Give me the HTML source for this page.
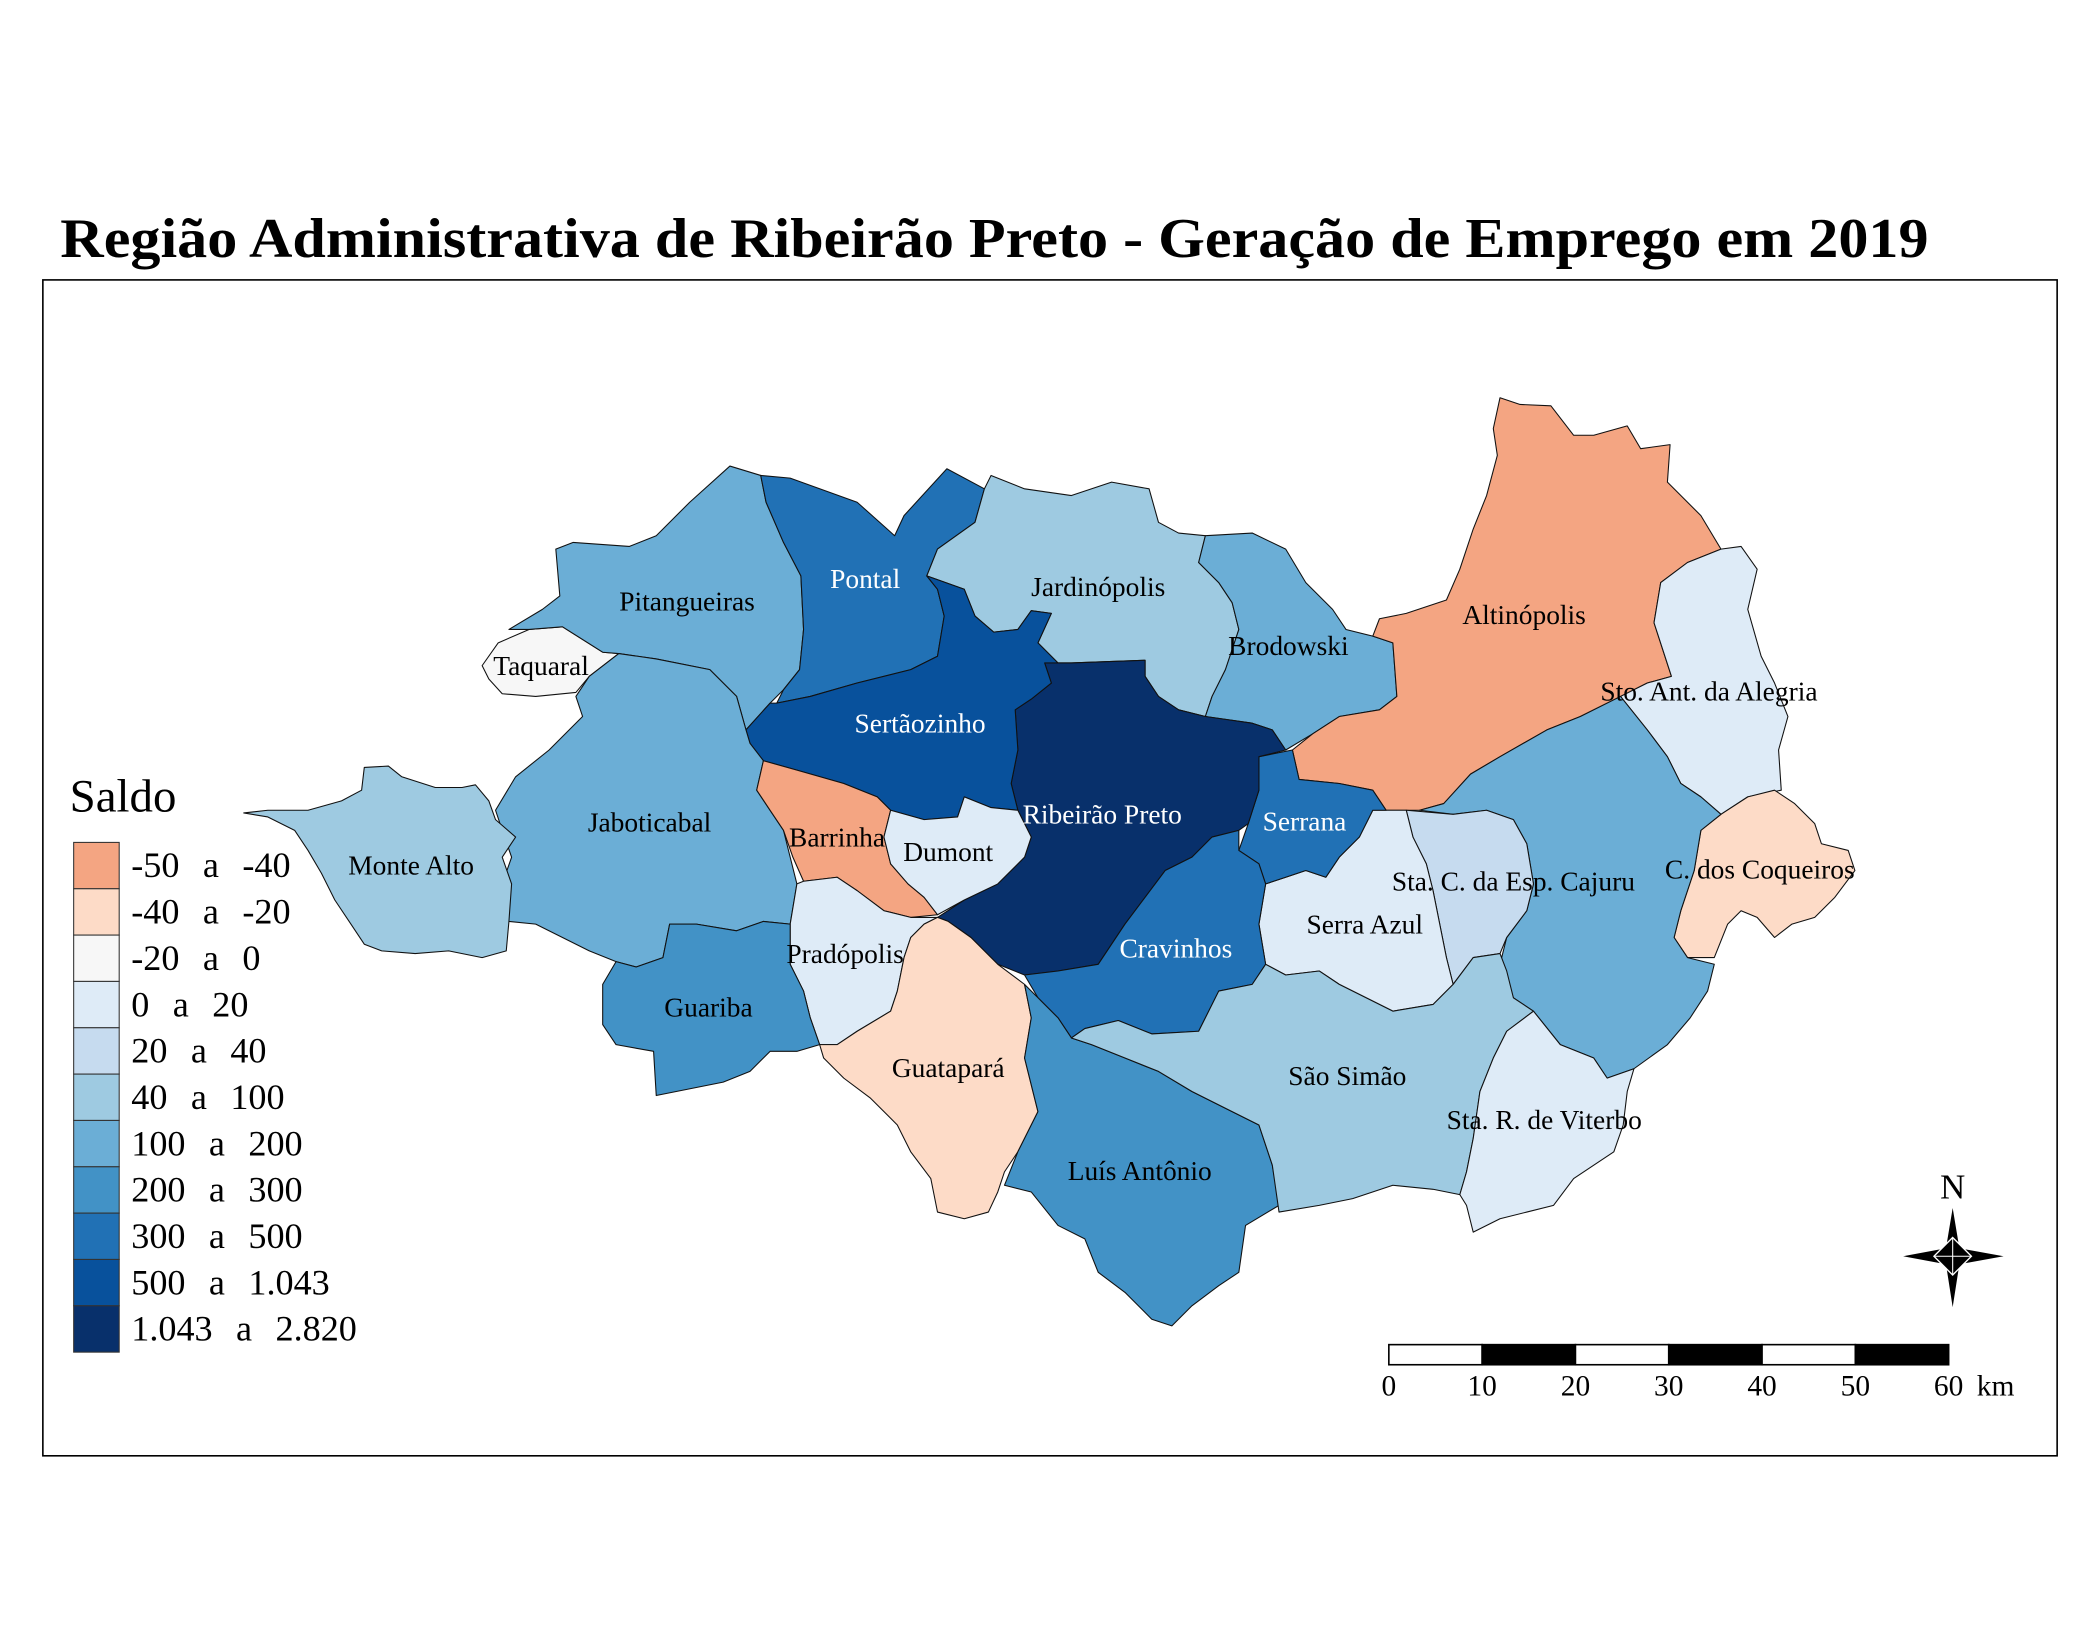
<!DOCTYPE html>
<html><head><meta charset="utf-8"><style>
html,body{margin:0;padding:0;background:#fff}
svg{display:block}
text{font-family:"Liberation Serif",serif}
</style></head><body>
<svg id="map" width="2100" height="1650" viewBox="0 0 1568 1232" preserveAspectRatio="none">
<rect width="1568" height="1232" fill="#fff"/>
<text x="45" y="192" font-size="42" font-weight="bold" textLength="1395" lengthAdjust="spacingAndGlyphs">Região Administrativa de Ribeirão Preto - Geração de Emprego em 2019</text>
<rect x="32" y="209" width="1504" height="878" fill="none" stroke="#000" stroke-width="1.2"/>
<g id="regions"></g>
<g id="labels"></g>
<g id="legend"></g>
<g>
<text x="1458" y="895" font-size="26" text-anchor="middle">N</text>
<polygon points="1458,902 1463,932 1496,938 1463,944 1458,976 1453,944 1421,938 1453,932" fill="#000"/>
<polygon points="1458,924 1472,938 1458,952 1444,938" fill="#000" stroke="#fff" stroke-width="1"/>
<line x1="1458" y1="924" x2="1458" y2="952" stroke="#fff" stroke-width="0.8"/>
<line x1="1444" y1="938" x2="1472" y2="938" stroke="#fff" stroke-width="0.8"/>
</g>
<g id="scalebar"></g>
</svg>
<script>
const municipalities = ["Taquaral","Pitangueiras","Pontal","Jardinópolis","Brodowski","Altinópolis","Sto. Ant. da Alegria","C. dos Coqueiros","Cajuru","Sta. C. da Esp.","Serra Azul","Serrana","Ribeirão Preto","Sertãozinho","Jaboticabal","Monte Alto","Barrinha","Dumont","Pradópolis","Guariba","Guatapará","Cravinhos","Luís Antônio","São Simão","Sta. R. de Viterbo"];
const saldo = [-10,150,400,70,150,-45,10,-30,150,30,10,400,2820,800,150,70,-45,10,10,250,-30,400,250,70,10];
const classBreaks = [-50,-40,-20,0,20,40,100,200,300,500,1043,2820];
const classLabels = ["-50  a  -40","-40  a  -20","-20  a  0","0  a  20","20  a  40","40  a  100","100  a  200","200  a  300","300  a  500","500  a  1.043","1.043  a  2.820"];
const classColors = ["#f4a582","#fddbc7","#f7f7f7","#deebf7","#c6dbef","#9ecae1","#6baed6","#4292c6","#2171b5","#08519c","#08306b"];
const scaleTicks = [0,10,20,30,40,50,60];

const shapes = {
"Taquaral":"360,497 372,480 395,470 420,468 450,487 462,488 440,505 430,517 400,520 375,518 365,507",
"Pitangueiras":"380,470 405,455 418,445 415,410 428,405 470,408 490,400 515,375 545,348 568,355 572,375 585,405 598,430 600,470 597,500 585,515 575,525 557,545 550,520 530,500 490,492 462,488 450,487 420,468 395,470",
"Pontal":"568,355 590,357 640,375 668,400 675,385 707,350 735,365 728,390 700,410 692,430 700,440 705,460 700,490 680,500 640,510 605,520 580,525 585,515 597,500 600,470 598,430 585,405 572,375",
"Jardinópolis":"735,365 740,355 765,365 800,370 830,360 858,365 865,390 880,398 900,400 895,420 910,435 920,450 925,470 915,500 905,520 900,535 880,530 865,520 855,505 855,493 800,495 790,495 775,480 785,458 770,456 760,470 742,472 728,460 720,440 692,430 700,410 728,390",
"Brodowski":"900,400 935,398 960,410 975,435 995,455 1005,470 1025,475 1040,480 1043,520 1030,530 1000,535 980,548 960,560 950,545 935,540 900,535 905,520 915,500 925,470 920,450 910,435 895,420",
"Altinópolis":"1120,297 1135,302 1158,303 1175,325 1190,325 1215,318 1225,335 1247,332 1245,360 1270,385 1285,410 1260,420 1240,435 1235,465 1248,505 1230,510 1210,520 1180,535 1155,545 1120,565 1098,578 1078,600 1060,605 1035,605 1025,590 1000,585 970,582 965,560 980,548 1000,535 1030,530 1043,520 1040,480 1025,475 1030,462 1050,458 1080,448 1090,425 1100,395 1110,370 1118,340 1115,320",
"Sto. Ant. da Alegria":"1260,420 1285,410 1300,408 1312,425 1305,455 1315,490 1325,510 1335,535 1328,560 1330,590 1305,595 1285,608 1270,595 1255,585 1245,565 1230,545 1210,520 1230,510 1248,505 1235,465 1240,435",
"C. dos Coqueiros":"1285,608 1305,595 1325,590 1340,600 1355,615 1360,630 1380,635 1385,650 1370,670 1355,685 1338,690 1325,700 1312,685 1300,680 1290,690 1280,715 1260,715 1250,700 1255,680 1265,650 1270,620",
"Cajuru":"1060,605 1078,600 1098,578 1120,565 1155,545 1180,535 1210,520 1230,545 1245,565 1255,585 1270,595 1285,608 1270,620 1265,650 1255,680 1250,700 1260,715 1280,720 1275,740 1262,760 1245,780 1220,798 1200,805 1190,790 1165,780 1145,755 1130,745 1120,720 1125,700 1140,680 1145,660 1140,630 1130,612 1110,605 1085,608",
"Sta. C. da Esp.":"1050,605 1085,608 1110,605 1130,612 1140,630 1145,660 1140,680 1125,700 1120,712 1100,715 1085,735 1080,715 1075,690 1070,665 1065,645 1055,625",
"Serra Azul":"1025,605 1050,605 1055,625 1065,645 1070,665 1075,690 1080,715 1085,735 1070,750 1040,755 1020,745 1000,735 985,725 960,728 945,720 940,690 945,660 960,655 975,650 990,655 1000,640 1015,625",
"Serrana":"940,565 965,560 970,582 1000,585 1025,590 1035,605 1025,605 1015,625 1000,640 990,655 975,650 960,655 945,660 940,645 925,635 932,615 940,590",
"Ribeirão Preto":"780,495 800,495 855,493 855,505 865,520 880,530 900,535 935,540 950,545 960,560 940,565 940,590 932,615 925,620 905,625 890,640 870,650 855,670 840,690 820,720 790,725 765,728 745,720 725,700 708,688 700,685 720,672 745,660 765,640 770,625 760,605 755,585 760,560 758,530 770,522 785,510",
"Sertãozinho":"692,430 720,440 728,460 742,472 760,470 770,456 785,458 775,480 790,495 780,495 785,510 770,522 758,530 760,560 755,585 760,605 740,603 720,595 715,610 690,612 665,605 655,595 630,585 595,575 570,568 560,555 557,545 575,525 580,525 605,520 640,510 680,500 700,490 705,460 700,440",
"Jaboticabal":"462,488 490,492 530,500 550,520 557,545 560,555 570,568 565,590 575,605 585,620 590,640 595,660 590,690 570,688 550,695 520,690 500,690 495,715 475,722 460,718 440,710 420,700 400,690 380,688 375,660 382,640 375,620 370,605 385,580 410,560 425,545 435,535 430,520 440,505",
"Monte Alto":"182,607 200,605 230,605 255,598 270,590 272,573 290,572 300,580 325,588 345,588 355,586 365,598 370,612 385,625 375,640 382,660 380,688 378,710 360,715 335,710 310,712 285,710 272,705 262,690 250,672 240,652 230,635 220,620 200,610",
"Barrinha":"570,568 595,575 630,585 655,595 665,605 660,625 665,645 678,660 690,670 700,683 680,685 660,680 640,665 625,655 600,658 592,640 585,620 575,605 565,590",
"Dumont":"665,605 690,612 715,610 720,595 740,603 760,605 770,625 765,640 745,660 720,672 700,683 690,670 678,660 665,645 660,625",
"Pradópolis":"595,660 600,658 625,655 640,665 660,680 680,685 700,685 690,690 680,700 675,715 670,740 665,755 640,770 625,780 612,780 605,760 600,740 590,720 590,690",
"Guariba":"450,735 460,718 475,722 495,715 500,690 520,690 550,695 570,688 590,690 590,720 600,740 605,760 612,780 595,785 575,785 560,800 540,808 490,818 488,785 460,780 450,765",
"Guatapará":"612,780 625,780 640,770 665,755 670,740 675,715 680,700 690,690 700,685 708,688 725,700 745,720 765,735 770,760 765,790 775,830 760,860 750,875 745,890 738,905 720,910 700,905 695,880 680,860 670,840 650,820 630,805 615,790",
"Cravinhos":"765,728 790,725 820,720 840,690 855,670 870,650 890,640 905,625 925,620 925,635 940,645 945,660 940,690 945,720 935,735 910,740 895,770 860,772 835,762 810,768 800,775 790,760 775,745",
"Luís Antônio":"765,735 775,745 790,760 800,775 815,780 840,790 865,800 890,815 920,830 940,840 950,870 955,900 930,915 925,950 910,960 890,975 875,990 860,985 840,965 820,950 810,925 790,915 770,890 750,885 760,860 775,830 765,790 770,760",
"São Simão":"800,775 810,768 835,762 860,772 895,770 910,740 935,735 945,720 960,728 985,725 1000,735 1020,745 1040,755 1070,750 1085,735 1100,715 1120,712 1125,725 1130,745 1145,755 1125,770 1115,790 1105,815 1100,850 1095,875 1090,892 1070,888 1040,885 1010,895 985,900 955,905 950,870 940,840 920,830 890,815 865,800 840,790 815,780",
"Sta. R. de Viterbo":"1145,755 1165,780 1190,790 1200,805 1220,798 1215,815 1212,840 1205,860 1190,870 1175,880 1160,900 1140,905 1120,910 1100,920 1095,900 1090,892 1095,875 1100,850 1105,815 1115,790 1125,770"
};
const labelText = {"Sta. C. da Esp.":"Sta. C. da Esp. Cajuru","Cajuru":""};
const labelPos = {"Taquaral":[404,504],"Pitangueiras":[513,456],"Pontal":[646,439],"Jardinópolis":[820,445],"Brodowski":[962,489],"Altinópolis":[1138,466],"Sto. Ant. da Alegria":[1276,523],"C. dos Coqueiros":[1314,656],"Cajuru":[1130,665],"Sta. C. da Esp.":[1130,665],"Serra Azul":[1019,697],"Serrana":[974,620],"Ribeirão Preto":[823,615],"Sertãozinho":[687,547],"Jaboticabal":[485,621],"Monte Alto":[307,653],"Barrinha":[625,632],"Dumont":[708,643],"Pradópolis":[631,719],"Guariba":[529,759],"Guatapará":[708,804],"Cravinhos":[878,715],"Luís Antônio":[851,881],"São Simão":[1006,810],"Sta. R. de Viterbo":[1153,843]};

const NS="http://www.w3.org/2000/svg";
function colorFor(v){for(let i=0;i<classColors.length;i++){if(v<=classBreaks[i+1])return classColors[i];}return classColors[classColors.length-1];}
function slug(s){return s.normalize('NFD').replace(/[\u0300-\u036f]/g,'').toLowerCase().replace(/[^a-z0-9]+/g,'-').replace(/^-|-$/g,'');}
const reg=document.getElementById('regions'), lab=document.getElementById('labels');
municipalities.forEach((m,i)=>{
  const p=document.createElementNS(NS,'polygon');
  p.setAttribute('points',shapes[m]);
  p.setAttribute('fill',colorFor(saldo[i]));
  p.setAttribute('stroke','#111');p.setAttribute('stroke-width','0.8');p.setAttribute('stroke-linejoin','round');
  
  
  reg.appendChild(p);
});
municipalities.forEach((m,i)=>{
  const t=(m in labelText)?labelText[m]:m; if(!t)return;
  const v=saldo[i];
  const tx=document.createElementNS(NS,'text');
  tx.setAttribute('x',labelPos[m][0]);tx.setAttribute('y',labelPos[m][1]);
  tx.setAttribute('text-anchor','middle');tx.setAttribute('font-size','20.5');
  tx.setAttribute('fill',v>=300?'#fff':'#000');
  tx.textContent=t;
  
  
  lab.appendChild(tx);
});
const lg=document.getElementById('legend');
const st=document.createElementNS(NS,'text');
st.setAttribute('x',52);st.setAttribute('y',606);st.setAttribute('font-size','35');st.textContent='Saldo';


lg.appendChild(st);
classLabels.forEach((l,i)=>{
  const y=629+i*34.6;
  const r=document.createElementNS(NS,'rect');
  r.setAttribute('x',55);r.setAttribute('y',y);r.setAttribute('width',34);r.setAttribute('height',34.6);
  r.setAttribute('fill',classColors[i]);r.setAttribute('stroke','#333');r.setAttribute('stroke-width','0.8');
  
  
  lg.appendChild(r);
  const t=document.createElementNS(NS,'text');
  t.setAttribute('x',98);t.setAttribute('y',y+26);t.setAttribute('font-size','27');
  t.style.whiteSpace='pre';
  t.style.wordSpacing='2px';
  t.textContent=l;
  
  
  lg.appendChild(t);
});
const sb=document.getElementById('scalebar');
const x0=1037,x1=1455,kmMax=scaleTicks[scaleTicks.length-1];
const sx=k=>x0+(x1-x0)*k/kmMax;
for(let i=0;i<scaleTicks.length-1;i++){
  const r=document.createElementNS(NS,'rect');
  r.setAttribute('x',sx(scaleTicks[i]));r.setAttribute('y',1004);r.setAttribute('width',sx(scaleTicks[i+1])-sx(scaleTicks[i]));r.setAttribute('height',15);
  r.setAttribute('fill',i%2?'#000':'#fff');r.setAttribute('stroke','#000');r.setAttribute('stroke-width','1.2');
  
  
  sb.appendChild(r);
}
scaleTicks.forEach(k=>{
  const t=document.createElementNS(NS,'text');
  t.setAttribute('x',sx(k));t.setAttribute('y',1042);t.setAttribute('font-size','22');t.setAttribute('text-anchor','middle');
  t.textContent=k;
  
  
  sb.appendChild(t);
});
const km=document.createElementNS(NS,'text');
km.setAttribute('x',1476);km.setAttribute('y',1042);km.setAttribute('font-size','22');km.textContent='km';


sb.appendChild(km);
</script>
</body></html>
